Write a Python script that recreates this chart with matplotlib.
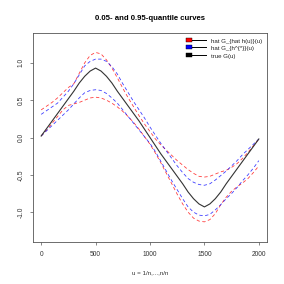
import numpy as np
import matplotlib
matplotlib.use("Agg")
import matplotlib.pyplot as plt
from matplotlib.patches import Rectangle
from matplotlib.lines import Line2D
from matplotlib.legend_handler import HandlerBase

plt.rcParams["font.family"] = ["Liberation Sans", "DejaVu Sans"]

# u grid (step 50)
u = np.arange(0, 2001, 50)

true_G = [0.02, 0.12, 0.22, 0.32, 0.42, 0.52, 0.62, 0.73, 0.82, 0.89, 0.93,
          0.89, 0.82, 0.73, 0.62, 0.52, 0.42, 0.32, 0.22, 0.11, 0.00,
          -0.11, -0.22, -0.32, -0.42, -0.52, -0.62, -0.73, -0.82, -0.89, -0.93,
          -0.89, -0.82, -0.73, -0.62, -0.52, -0.42, -0.32, -0.22, -0.12, -0.02]

# hat G_{hat h(u)} : 0.95 and 0.05 quantiles (red)
red_hi = [0.37, 0.42, 0.47, 0.53, 0.60, 0.67, 0.72, 0.86, 1.00, 1.10, 1.14,
          1.12, 1.04, 0.93, 0.80, 0.66, 0.53, 0.41, 0.29, 0.18, 0.08,
          -0.02, -0.10, -0.17, -0.24, -0.31, -0.37, -0.43, -0.48, -0.52, -0.53,
          -0.52, -0.49, -0.46, -0.44, -0.40, -0.35, -0.28, -0.20, -0.11, -0.02]
red_lo = [0.02, 0.10, 0.19, 0.28, 0.37, 0.43, 0.45, 0.47, 0.50, 0.53, 0.54,
          0.53, 0.50, 0.46, 0.41, 0.35, 0.28, 0.20, 0.11, 0.01, -0.09,
          -0.21, -0.34, -0.48, -0.62, -0.76, -0.89, -1.00, -1.08, -1.12, -1.13,
          -1.10, -1.02, -0.90, -0.80, -0.72, -0.66, -0.61, -0.55, -0.47, -0.38]

# hat G_{h^*} : 0.95 and 0.05 quantiles (blue)
blue_hi = [0.31, 0.36, 0.41, 0.46, 0.54, 0.62, 0.72, 0.84, 0.96, 1.02, 1.05,
           1.05, 1.02, 0.95, 0.85, 0.72, 0.60, 0.48, 0.37, 0.26, 0.14,
           0.03, -0.08, -0.18, -0.28, -0.38, -0.47, -0.55, -0.60, -0.63, -0.64,
           -0.62, -0.57, -0.51, -0.45, -0.38, -0.31, -0.23, -0.16, -0.09, -0.02]
blue_lo = [0.02, 0.09, 0.16, 0.23, 0.30, 0.37, 0.45, 0.53, 0.60, 0.63, 0.64,
           0.63, 0.59, 0.53, 0.46, 0.37, 0.28, 0.19, 0.10, 0.01, -0.08,
           -0.19, -0.32, -0.45, -0.58, -0.70, -0.82, -0.93, -1.00, -1.04, -1.05,
           -1.03, -0.97, -0.90, -0.82, -0.75, -0.67, -0.58, -0.50, -0.41, -0.31]

legend_labels = ["hat G_{hat h(u)}(u)", "hat G_{h^{*}}(u)", "true G(u)"]
legend_colors = ["red", "blue", "black"]


class BoxLine(HandlerBase):
    # R style legend key: filled box followed by a black line
    def create_artists(self, legend, orig_handle, xd, yd, w, h, fontsize, trans):
        s = h * 0.8
        box = Rectangle((xd, yd + (h - s) / 2), s * 1.3, s,
                        facecolor=orig_handle.get_facecolor(),
                        edgecolor="black", lw=0.3, transform=trans)
        line = Line2D([xd + s, xd + w], [yd + h / 2, yd + h / 2],
                      color="black", lw=0.7, transform=trans)
        return [line, box]


fig = plt.figure(figsize=(2.84, 2.84), dpi=100)
ax = fig.add_axes([33 / 284, 42 / 284, 234 / 284, 209 / 284])

dash = (4, 3)
ax.plot(u, red_hi, color="red", lw=0.6, dashes=dash, alpha=0.75)
ax.plot(u, red_lo, color="red", lw=0.6, dashes=dash, alpha=0.75)
ax.plot(u, blue_hi, color="blue", lw=0.6, dashes=dash, alpha=0.75)
ax.plot(u, blue_lo, color="blue", lw=0.6, dashes=dash, alpha=0.75)
ax.plot(u, true_G, color="#333333", lw=0.8)

ax.set_xlim(-75, 2075)
ax.set_ylim(-1.4, 1.4)
ax.set_xticks([0, 500, 1000, 1500, 2000])
ax.set_yticks([-1.0, -0.5, 0.0, 0.5, 1.0])
ax.set_yticklabels(["-1.0", "-0.5", "0.0", "0.5", "1.0"], rotation=90, va="center")
ax.tick_params(length=2.2, width=0.5, color="#555555", labelsize=4.8, pad=4,
               labelcolor="#333333")
for sp in ax.spines.values():
    sp.set_linewidth(0.6)
    sp.set_color("#555555")

ax.set_title("0.05- and 0.95-quantile curves", fontsize=5.6, fontweight="bold",
             pad=9)
ax.set_xlabel("u = 1/n,...,n/n", fontsize=4.5, labelpad=9, color="#333333")

handles = [Rectangle((0, 0), 1, 1, facecolor=c) for c in legend_colors]
ax.legend(handles, legend_labels, loc="upper right", frameon=False,
          fontsize=4.4, handler_map={Rectangle: BoxLine()},
          handlelength=3.2, handleheight=0.9, handletextpad=0.8,
          labelspacing=0.35, borderaxespad=0.4, labelcolor="#222222")

fig.savefig("out.png", dpi=100)
